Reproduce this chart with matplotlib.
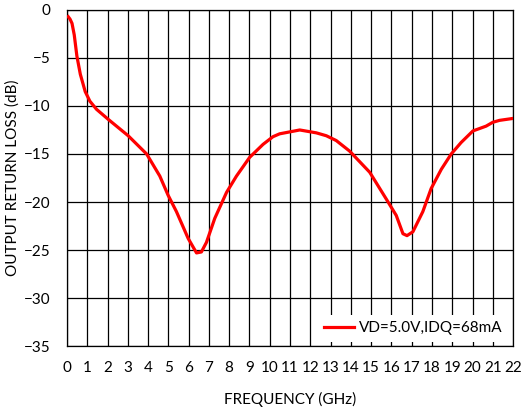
import numpy as np
import matplotlib.pyplot as plt

plt.rcParams['font.family'] = ['Lato', 'DejaVu Sans']

# values
freq = [0.06, 0.15, 0.25, 0.36, 0.49, 0.66, 0.9, 1.13, 1.46, 2.04, 3.02, 3.93,
        4.58, 4.99, 5.4, 5.98, 6.39, 6.63, 6.88, 7.29, 7.87, 8.36, 9.01, 9.67,
        10.16, 10.49, 11.48, 12.3, 12.79, 13.28, 13.94, 14.93, 15.75, 16.24,
        16.57, 16.77, 17.06, 17.55, 17.96, 18.46, 18.95, 19.44, 20.02, 20.67,
        21.0, 21.33, 21.99]
rl = [-0.7, -0.95, -1.4, -2.6, -4.8, -6.7, -8.5, -9.5, -10.35, -11.4, -13.1,
      -15.0, -17.3, -19.3, -21.0, -23.8, -25.3, -25.2, -24.2, -21.7, -19.0,
      -17.3, -15.35, -14.0, -13.2, -12.9, -12.5, -12.8, -13.1, -13.6, -14.7,
      -16.9, -19.7, -21.4, -23.3, -23.5, -23.1, -21.0, -18.6, -16.6, -15.0,
      -13.8, -12.6, -12.1, -11.7, -11.5, -11.3]

xticks = np.arange(0, 23, 1)
yticks = np.arange(-35, 1, 5)

fig = plt.figure(figsize=(5.23, 4.13), dpi=100)
ax = fig.add_axes([0.128, 0.162, 0.853, 0.814])

ax.plot(freq, rl, color='#ff0000', lw=2.3, label='VD=5.0V,IDQ=68mA', zorder=3,
        solid_joinstyle='round')

ax.set_xlim(0, 22)
ax.set_ylim(-35, 0)
ax.set_xticks(xticks)
ax.set_yticks(yticks)
ax.tick_params(length=0, labelsize=11)
ax.tick_params(axis='x', pad=11)
ax.tick_params(axis='y', pad=12)
ax.grid(True, color='black', lw=0.9)
ax.set_axisbelow(True)
for s in ax.spines.values():
    s.set_color('black')
    s.set_linewidth(0.9)

ax.set_xlabel('FREQUENCY (GHz)', fontsize=11, labelpad=12)
ax.set_ylabel('OUTPUT RETURN LOSS (dB)', fontsize=11)
ax.yaxis.set_label_coords(-0.105, 0.5)

leg = ax.legend(loc='lower right', frameon=True, fontsize=11, handlelength=2.0,
                handletextpad=0.3, borderaxespad=0.3, fancybox=False)
leg.get_frame().set_edgecolor('none')
leg.get_frame().set_facecolor('white')
leg.get_frame().set_alpha(1)

fig.savefig('out.png', dpi=100)
